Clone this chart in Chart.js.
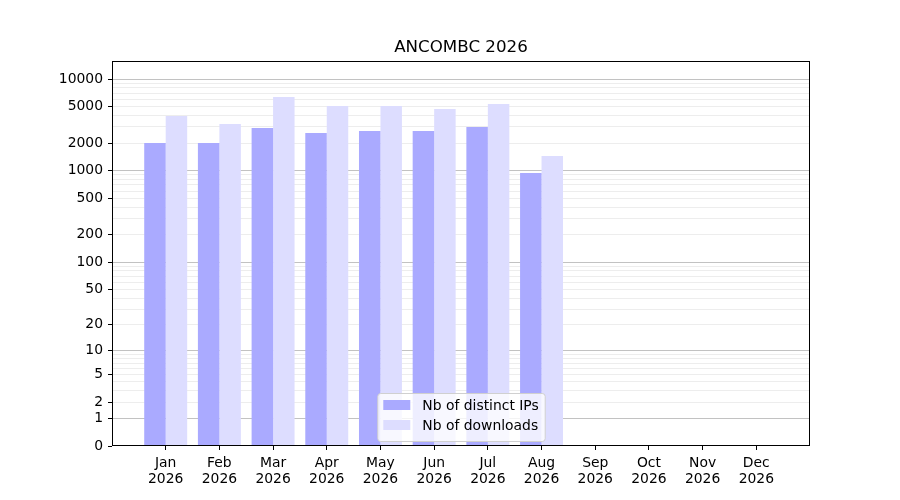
<!DOCTYPE html>
<html>
  <head>
    <meta charset="UTF-8" />
    <title>ANCOMBC 2026</title>
    <style>
      body { margin: 0; background: #fff; }
    </style>
  </head>
  <body>
    <canvas id="myCanvas" width="900" height="500"></canvas>
    <script src="https://cdn.jsdelivr.net/npm/chart.js@4.4.1/dist/chart.umd.min.js"></script>
    <script>
      // data
      const months = ["Jan", "Feb", "Mar", "Apr", "May", "Jun", "Jul", "Aug", "Sep", "Oct", "Nov", "Dec"];
      const year = "2026";
      const distinctIps = [2000, 2000, 2920, 2580, 2710, 2710, 3000, 945, 0, 0, 0, 0];
      const downloads = [3950, 3230, 6360, 5080, 5080, 4710, 5340, 1450, 0, 0, 0, 0];
      const yTickLabels = [0, 1, 2, 5, 10, 20, 50, 100, 200, 500, 1000, 2000, 5000, 10000];
      const yMax = 15700;

      const FONT = "'DejaVu Sans', sans-serif";
      const sym = v => Math.log10(1 + v);

      // all y ticks: labelled ones plus the minor grid ones (2..9 per decade)
      const yTicks = [];
      for (let d = 1; d <= 10000; d *= 10) {
        for (let m = 1; m <= 9; m++) {
          const t = m * d;
          if (t > yMax) break;
          yTicks.push(t);
        }
      }
      yTicks.unshift(0);

      const isDecade = t => t >= 1 && Math.abs(Math.log10(t) - Math.round(Math.log10(t))) < 1e-9;

      const frame = {
        id: "frame",
        afterDraw(chart) {
          const { ctx, chartArea: a } = chart;
          ctx.save();
          ctx.strokeStyle = "#000";
          ctx.lineWidth = 1;
          ctx.strokeRect(Math.round(a.left) + 0.5, Math.round(a.top) + 0.5,
            Math.round(a.right - a.left) - 1, Math.round(a.bottom - a.top) - 1);

          // legend inside the plot, bottom centre
          ctx.font = "13.9px " + FONT;
          const sets = chart.data.datasets;
          const tw = Math.max(...sets.map(s => ctx.measureText(s.label).width));
          const w = tw + 51, h = 48;
          const x = (a.left + a.right) / 2 - w / 2;
          const y = a.bottom - 5 - h;
          ctx.fillStyle = "rgba(255,255,255,0.8)";
          ctx.strokeStyle = "#d0d0d0";
          ctx.beginPath();
          ctx.roundRect(x + 0.5, y + 0.5, w, h, 3);
          ctx.fill();
          ctx.stroke();
          ctx.textBaseline = "middle";
          sets.forEach((s, i) => {
            const cy = y + 12 + i * 20;
            ctx.fillStyle = s.backgroundColor;
            ctx.fillRect(x + 6, cy - 5, 27, 10);
            ctx.fillStyle = "#000";
            ctx.fillText(s.label, x + 45, cy + 1);
          });
          ctx.restore();
        }
      };

      const ctx = document.getElementById("myCanvas").getContext("2d");
      const myChart = new Chart(ctx, {
        type: "bar",
        data: {
          datasets: [
            {
              label: "Nb of distinct IPs",
              backgroundColor: "rgb(170, 170, 255)",
              data: distinctIps.map((v, i) => ({ x: i, y: sym(v) }))
            },
            {
              label: "Nb of downloads",
              backgroundColor: "rgb(221, 221, 255)",
              data: downloads.map((v, i) => ({ x: i, y: sym(v) }))
            }
          ]
        },
        options: {
          responsive: false,
          animation: false,
          devicePixelRatio: 1,
          layout: { padding: 0 },
          datasets: { bar: { categoryPercentage: 0.8, barPercentage: 1.0 } },
          plugins: {
            legend: { display: false },
            tooltip: { enabled: false },
            title: {
              display: true,
              fullSize: false,
              text: "ANCOMBC 2026",
              color: "#000",
              font: { family: FONT, size: 16.7, weight: "normal", lineHeight: 1.2 },
              padding: { top: 38, bottom: 3 }
            }
          },
          scales: {
            x: {
              type: "linear",
              min: -1,
              max: 12,
              offset: false,
              afterBuildTicks: s => {
                s.ticks = months.map((m, i) => ({ value: i }));
              },
              afterFit: s => { s.height = 54; },
              ticks: {
                autoSkip: false,
                maxRotation: 0,
                color: "#000",
                padding: 5,
                font: { family: FONT, size: 13.9, lineHeight: 1.15 },
                callback: v => [months[v], year]
              },
              grid: { drawOnChartArea: false, offset: false, tickLength: 4, color: "#000" },
              border: { display: false }
            },
            y: {
              type: "linear",
              min: 0,
              max: sym(yMax),
              z: 1,
              afterBuildTicks: s => {
                s.ticks = yTicks.map(t => ({ value: sym(t) }));
              },
              afterFit: s => { s.width = 112; },
              ticks: {
                autoSkip: false,
                color: "#000",
                padding: 5,
                font: { family: FONT, size: 13.9 },
                callback: (v, i) => (yTickLabels.includes(yTicks[i]) ? String(yTicks[i]) : "")
              },
              grid: {
                tickLength: 4,
                color: c => {
                  const t = yTicks[c.index];
                  if (t === 0) return "rgba(0,0,0,0)";
                  return isDecade(t) ? "rgba(0,0,0,0.24)" : "rgba(0,0,0,0.07)";
                },
                tickColor: c => (yTickLabels.includes(yTicks[c.index]) ? "#000" : "rgba(0,0,0,0)")
              },
              border: { display: false }
            },
            // empty right-hand space so the plot ends where the reference does
            yRight: {
              type: "linear",
              position: "right",
              afterFit: s => { s.width = 90; },
              ticks: { display: false },
              grid: { display: false },
              border: { display: false }
            }
          }
        },
        plugins: [frame]
      });
    </script>
  </body>
</html>
